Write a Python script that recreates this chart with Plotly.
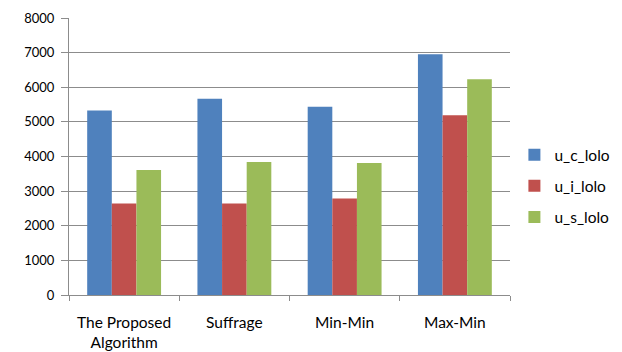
import plotly.graph_objects as go

categories = ["The Proposed<br>Algorithm", "Suffrage", "Min-Min", "Max-Min"]
u_c_lolo = [5330, 5670, 5440, 6950]
u_i_lolo = [2640, 2640, 2790, 5190]
u_s_lolo = [3610, 3840, 3810, 6230]

series = [
    ("u_c_lolo", u_c_lolo, "#4F81BD"),
    ("u_i_lolo", u_i_lolo, "#C0504D"),
    ("u_s_lolo", u_s_lolo, "#9BBB59"),
]

fig = go.Figure()
for name, vals, color in series:
    fig.add_trace(go.Bar(
        x=categories, y=vals, name=name, legendgroup=name,
        marker=dict(color=color, line=dict(width=0)),
    ))

font_family = "Lato, Carlito, 'Open Sans', sans-serif"
fig.update_layout(
    width=622, height=352,
    margin=dict(l=69, r=112, t=18, b=57, autoexpand=False),
    paper_bgcolor="white", plot_bgcolor="white",
    barmode="group", bargap=0.33, bargroupgap=0,
    font=dict(family=font_family, size=13, color="#000000"),
    showlegend=True,
    legend=dict(
        x=1.010, xanchor="left", y=0.393, yanchor="middle",
        font=dict(size=15.5, color="#000000"),
        traceorder="grouped", tracegroupgap=8, itemwidth=30,
    ),
    xaxis=dict(
        showline=True, linecolor="#8C8C8C", linewidth=1, automargin=False,
        ticks="outside", tickson="boundaries", ticklen=5, tickcolor="#8C8C8C",
        showgrid=False, tickfont=dict(size=15.5), ticklabelstandoff=13,
    ),
    yaxis=dict(
        range=[0, 8000], dtick=1000, automargin=False,
        showline=True, linecolor="#8C8C8C", linewidth=1,
        ticks="outside", ticklen=7, tickcolor="#8C8C8C",
        showgrid=True, gridcolor="#8C8C8C", gridwidth=1,
        zeroline=False, tickfont=dict(size=13), ticklabelstandoff=4,
    ),
)

fig.write_html("out.html")
